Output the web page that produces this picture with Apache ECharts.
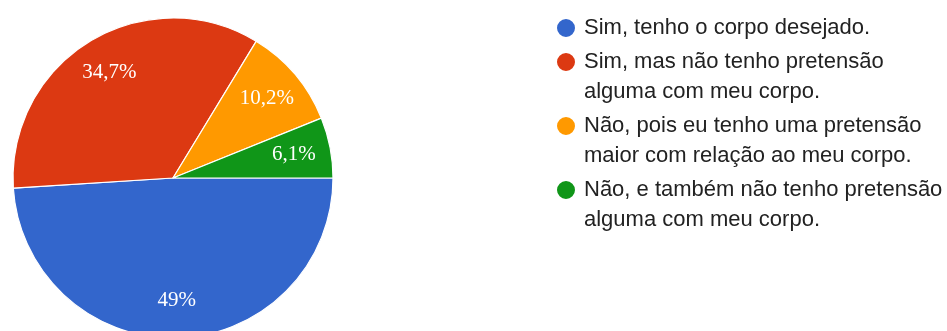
<!DOCTYPE html>
<html>
<head>
<meta charset="utf-8">
<script src="https://cdn.jsdelivr.net/npm/echarts@6/dist/echarts.min.js"></script>
<style>
  html, body { margin: 0; padding: 0; background: #fff; }
  #chart { width: 947px; height: 331px; }
</style>
</head>
<body>
<div id="chart"></div>
<script>
// Answer options (line breaks mark where each legend entry wraps)
const categories = [
  'Sim, tenho o corpo desejado.',
  'Sim, mas não tenho pretensão\nalguma com meu corpo.',
  'Não, pois eu tenho uma pretensão\nmaior com relação ao meu corpo.',
  'Não, e também não tenho pretensão\nalguma com meu corpo.'
];
// Share of responses, in percent
const shares = [49, 34.7, 10.2, 6.1];
const colors = ['#3366cc', '#dc3912', '#ff9900', '#109618'];

const pieData = categories.map((name, i) => ({ name, value: shares[i] }));
const pctLabel = v => String(v).replace('.', ',') + '%';

const chart = echarts.init(document.getElementById('chart'), null, { renderer: 'canvas' });

chart.setOption({
  animation: false,
  backgroundColor: '#ffffff',
  color: colors,
  legend: {
    orient: 'vertical',
    left: 550,
    top: 8,
    icon: 'circle',
    itemWidth: 26,
    itemHeight: 20,
    itemGap: -26,
    selectedMode: false,
    data: categories,
    // a leading blank line keeps the dot beside the first line of wrapped entries
    formatter: name => (name.indexOf('\n') >= 0 ? '\n' + name : name),
    textStyle: {
      fontFamily: '"Liberation Sans", Arial, sans-serif',
      fontSize: 22,
      lineHeight: 30,
      color: '#222'
    }
  },
  series: [
    {
      name: 'respostas',
      type: 'pie',
      center: [173, 178],
      radius: [0, 160],
      startAngle: 0,
      clockwise: true,
      silent: true,
      data: pieData,
      label: { show: false },
      labelLine: { show: false },
      itemStyle: { borderColor: '#ffffff', borderWidth: 1.2 }
    },
    {
      // transparent ring that carries the percentage labels
      name: 'rotulos',
      type: 'pie',
      center: [173, 178],
      radius: [80, 160],
      startAngle: 0,
      clockwise: true,
      silent: true,
      legendHoverLink: false,
      data: pieData,
      itemStyle: { color: 'rgba(0,0,0,0)', borderWidth: 0 },
      labelLine: { show: false },
      label: {
        show: true,
        position: 'inside',
        formatter: p => pctLabel(p.value),
        color: '#ffffff',
        fontFamily: '"Liberation Serif", "Times New Roman", serif',
        fontSize: 21
      }
    }
  ]
});
</script>
</body>
</html>
